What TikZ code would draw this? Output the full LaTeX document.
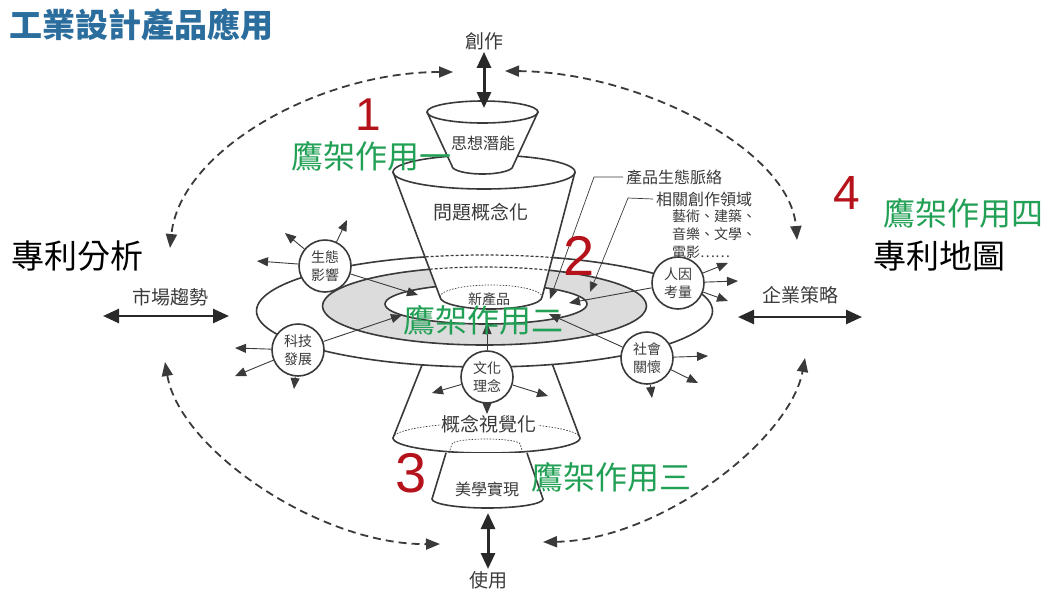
\documentclass[tikz,border=0pt]{standalone}
\usepackage{fontspec}
\setmainfont{Noto Sans CJK TC}
\newfontfamily\latinsans{Liberation Sans}
\usetikzlibrary{arrows.meta}
\definecolor{ttl}{HTML}{2B6E9E}
\definecolor{grn}{HTML}{22A055}
\definecolor{rd}{HTML}{B5121B}
\definecolor{ink}{HTML}{3A3A3A}
\definecolor{shade}{HTML}{DCDCDC}
\tikzset{
  lbl/.style={text=ink, font=\fontsize{19}{21}\selectfont, inner sep=0pt},
  slbl/.style={text=ink, font=\fontsize{16}{18}\selectfont, inner sep=0pt},
  tlbl/.style={text=ink, font=\fontsize{14}{16}\selectfont, inner sep=0pt, anchor=west},
  scaf/.style={text=grn, font=\fontsize{32}{34}\selectfont, inner sep=0pt},
  num/.style={text=rd, font=\latinsans\fontsize{48}{48}\selectfont, inner sep=0pt},
  bigtxt/.style={text=black, font=\fontsize{33}{36}\selectfont, inner sep=0pt},
  circ/.style={circle, draw=ink, line width=1.6pt, fill=white, minimum size=52pt, inner sep=0pt,
               align=center, font=\fontsize{14}{18}\selectfont, text=ink},
  tarr/.style={draw=ink, line width=0.9pt, -{Triangle[length=11pt,width=9pt]}},
  leader/.style={draw=ink, line width=0.7pt, -{Triangle[length=10pt,width=8pt]}},
  dasharr/.style={draw=ink, line width=1.8pt, dash pattern=on 8pt off 5pt,
                  {Triangle[length=14pt,width=11pt]}-{Triangle[length=14pt,width=11pt]}},
  thickarr/.style={draw=ink!70!black, line width=3pt,
                  {Triangle[length=16pt,width=14pt]}-{Triangle[length=16pt,width=14pt]}},
  ring/.style={draw=ink, line width=1.6pt},
  hid/.style={draw=ink, line width=1.2pt, dash pattern=on 3pt off 2pt},
  dots/.style={draw=ink, line width=0.7pt, dash pattern=on 1.5pt off 1.5pt},
}
\begin{document}
\begin{tikzpicture}[x=1pt,y=-1pt]
\useasboundingbox (0,0) rectangle (1051,592);

% ---- title
\node[anchor=west, text=ttl, font=\bfseries\fontsize{33}{36}\selectfont, inner sep=0pt] (title) at (9,25) {工業設計產品應用};

% ---- lower cones (drawn first, the ring covers their tops)
\fill[white] (428,350) -- (393,438) arc[start angle=180,end angle=360,x radius=93.5pt,y radius=15pt] -- (547,350) -- cycle;
\draw[ring] (428,350) -- (393,438) arc[start angle=180,end angle=360,x radius=93.5pt,y radius=15pt] -- (547,350);
\draw[dots] (393,438) arc[start angle=180,end angle=0,x radius=93.5pt,y radius=15pt];
\fill[white] (446,453) -- (432,499) arc[start angle=180,end angle=360,x radius=55.5pt,y radius=9pt] -- (527,453) -- cycle;
\draw[ring] (446,453) -- (432,499) arc[start angle=180,end angle=360,x radius=55.5pt,y radius=9pt] -- (527,453);
\draw[dots] (449,453) -- (452,444) arc[start angle=180,end angle=0,x radius=34pt,y radius=5pt] -- (523,453);

% ---- rings
\filldraw[fill=white, ring] (484.5,311) ellipse[x radius=228pt, y radius=56pt];
\filldraw[fill=shade, ring] (484.5,306) ellipse[x radius=162pt, y radius=39pt];
\filldraw[fill=white, ring] (486,304) ellipse[x radius=101pt, y radius=20pt];

% ---- big cone
\fill[white] (393,172) -- (440,297) arc[start angle=180,end angle=360,x radius=51pt,y radius=12pt] -- (575,172) arc[start angle=0,end angle=180,x radius=91pt,y radius=17pt] -- cycle;
\begin{scope}
  \clip (393,172) -- (440,297) -- (542,297) -- (575,172) -- cycle;
  \draw[hid] (484.5,311) ellipse[x radius=228pt, y radius=56pt];
  \draw[hid] (484.5,306) ellipse[x radius=162pt, y radius=39pt];
\end{scope}
\draw[dots] (440,297) arc[start angle=180,end angle=0,x radius=51pt,y radius=12pt];
\draw[ring] (393,172) -- (440,297) arc[start angle=180,end angle=360,x radius=51pt,y radius=12pt] -- (575,172);
\draw[ring] (484,172) ellipse[x radius=91pt, y radius=17pt];

% ---- cup
\fill[white] (427,112) -- (452,166) arc[start angle=180,end angle=360,x radius=30.5pt,y radius=8pt] -- (538,112) arc[start angle=0,end angle=180,x radius=55.5pt,y radius=11pt] -- cycle;
\draw[ring] (427,112) -- (452,166) arc[start angle=180,end angle=360,x radius=30.5pt,y radius=8pt] -- (538,112);
\draw[ring] (482.5,112) ellipse[x radius=55.5pt, y radius=11pt];

% ---- texts in the shapes
\node[slbl] (sixiang) at (483,143) {思想潛能};
\node[lbl] (wenti) at (481,212) {問題概念化};
\node[text=ink, font=\fontsize{14}{16}\selectfont, inner sep=0pt] (xin) at (489,299) {新產品};
\node[lbl, fill=white, inner sep=1pt] (gainian) at (489,424) {概念視覺化};
\node[slbl] (meixue) at (487,489) {美學實現};

% ---- circles
\node[circ] (c1) at (325,266) {生態\\影響};
\node[circ] (c2) at (298,350) {科技\\發展};
\node[circ] (c3) at (487,377) {文化\\理念};
\node[circ] (c4) at (647,358) {社會\\關懷};
\node[circ] (c5) at (678,283) {人因\\考量};

% inward arrows
\coordinate (i1) at (418,295);
\coordinate (i2) at (402,315);
\coordinate (i3) at (487,323);
\coordinate (i4) at (549,314);
\coordinate (i5) at (569,303);
\draw[tarr] (c1) -- (i1);
\draw[tarr] (c2) -- (i2);
\draw[tarr] (c3) -- (i3);
\draw[tarr] (c4) -- (i4);
\draw[tarr] (c5) -- (i5);

% outward arrows
\coordinate (o11) at (285,233); \coordinate (o12) at (347,220); \coordinate (o13) at (257,261);
\coordinate (o21) at (235,348); \coordinate (o22) at (235,376); \coordinate (o23) at (294,389);
\coordinate (o31) at (432,393); \coordinate (o32) at (548,396); \coordinate (o33) at (487,414);
\coordinate (o41) at (708,356); \coordinate (o42) at (698,383); \coordinate (o43) at (652,398);
\coordinate (o51) at (728,263); \coordinate (o52) at (738,281); \coordinate (o53) at (728,301);
\foreach \c/\t in {c1/o11,c1/o12,c1/o13,c2/o21,c2/o22,c2/o23,c3/o31,c3/o32,c3/o33,c4/o41,c4/o42,c4/o43,c5/o51,c5/o52,c5/o53}
  \draw[tarr] (\c) -- (\t);

% ---- leader labels
\node[text=ink, font=\fontsize{16}{18}\selectfont, inner sep=0pt, anchor=west] (prod) at (626,177) {產品生態脈絡};
\node[text=ink, font=\fontsize{16}{18}\selectfont, inner sep=0pt, anchor=west] (rel) at (656,199) {相關創作領域};
\node[tlbl] (art1) at (672,216) {藝術、建築、};
\node[tlbl] (art2) at (672,234) {音樂、文學、};
\node[tlbl] (art3) at (672,252) {電影……};
\coordinate (pk1) at (594,177);
\coordinate (pt1) at (550,299);
\coordinate (pk2) at (628,198);
\coordinate (pt2) at (590,292);
\draw[leader] ([xshift=-3pt]prod.west) -- (pk1) -- (pt1);
\draw[leader] ([xshift=-3pt]rel.west) -- (pk2) -- (pt2);

% ---- side and top/bottom labels with arrows
\node[lbl] (chuangzuo) at (484,41) {創作};
\coordinate (cz) at (484,108);
\draw[thickarr] ([yshift=-2pt]chuangzuo.south) -- (cz);
\node[lbl] (shiyong) at (488,580) {使用};
\coordinate (sy) at (488,513);
\draw[thickarr] (sy) -- ([yshift=2pt]shiyong.north);
\node[lbl] (shichang) at (170,297) {市場趨勢};
\coordinate (sc1) at (103,316); \coordinate (sc2) at (229,316);
\draw[thickarr, line width=2.6pt] (sc1) -- (sc2);
\node[lbl] (qiye) at (800,295) {企業策略};
\coordinate (qy1) at (738,317); \coordinate (qy2) at (862,317);
\draw[thickarr, line width=2.6pt] (qy1) -- (qy2);

% ---- dashed loop arrows
\coordinate (a1) at (453,72);  \coordinate (a2) at (170,248);
\coordinate (b1) at (505,71);  \coordinate (b2) at (797,240);
\coordinate (d1) at (165,362); \coordinate (d2) at (440,544);
\coordinate (e1) at (543,542); \coordinate (e2) at (805,358);
\draw[dasharr] (a1) .. controls (320,72) and (180,150) .. (a2);
\draw[dasharr] (b1) .. controls (640,72) and (790,150) .. (b2);
\draw[dasharr] (d1) .. controls (180,450) and (320,545) .. (d2);
\draw[dasharr] (e1) .. controls (660,540) and (790,440) .. (e2);

% ---- scaffolding labels
\node[num, font=\latinsans\fontsize{46}{46}\selectfont] (n1) at (368,115) {1};
\node[scaf] (s1) at (371,156) {鷹架作用一};
\node[num, font=\latinsans\fontsize{56}{56}\selectfont] (n2) at (579,256) {2};
\node[scaf] (s2) at (483,320) {鷹架作用二};
\node[num, font=\latinsans\fontsize{56}{56}\selectfont] (n3) at (411,473) {3};
\node[scaf] (s3) at (611,477) {鷹架作用三};
\node[num] (n4) at (847,193) {4};
\node[scaf] (s4) at (963,213) {鷹架作用四};
\node[bigtxt] (zlfx) at (77,256) {專利分析};
\node[bigtxt] (zldt) at (939,256) {專利地圖};
\end{tikzpicture}
\end{document}
